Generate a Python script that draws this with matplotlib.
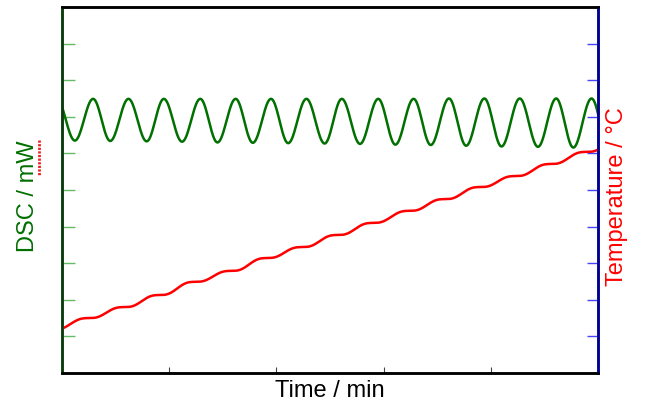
import numpy as np
import matplotlib
matplotlib.use('Agg')
import matplotlib.pyplot as plt
from matplotlib.lines import Line2D

plt.rcParams['font.family'] = ['Liberation Sans', 'DejaVu Sans']

# DSC signal: alternating extrema (time in min, value in axis units)
dsc_t = [-0.5, 1.2, 2.9, 4.5, 6.2, 7.9, 9.5, 11.2, 12.9, 14.5, 16.2, 17.8, 19.5,
         21.1, 22.8, 24.5, 26.1, 27.8, 29.5, 31.1, 32.8, 34.4, 36.1, 37.7, 39.4,
         41.0, 42.7, 44.4, 46.1, 47.7, 49.4, 51.0]
dsc_v = [7.50, 6.35, 7.49, 6.34, 7.49, 6.33, 7.49, 6.32, 7.49, 6.30, 7.49, 6.29, 7.49,
         6.28, 7.49, 6.27, 7.49, 6.26, 7.49, 6.24, 7.49, 6.23, 7.50, 6.21, 7.50,
         6.19, 7.50, 6.18, 7.50, 6.16, 7.50, 6.15]

# Temperature: times and levels of the flat parts of the stepped ramp
temp_t = [-0.9, 2.5, 5.8, 9.1, 12.4, 15.8, 19.1, 22.4, 25.7, 29.0, 32.4, 35.7,
          39.0, 42.3, 45.6, 48.9, 52.2]
temp_v = [1.18, 1.50, 1.80, 2.13, 2.49, 2.79, 3.14, 3.44, 3.77, 4.10, 4.43, 4.75,
          5.08, 5.38, 5.71, 6.04, 6.36]


def half_cos(tk, vk, n=40):
    xs, ys = [], []
    for i in range(len(tk) - 1):
        u = np.linspace(0, 1, n)
        xs.append(tk[i] + (tk[i + 1] - tk[i]) * u)
        ys.append(vk[i] + (vk[i + 1] - vk[i]) * (1 - np.cos(np.pi * u)) / 2)
    return np.concatenate(xs), np.concatenate(ys)


def smooth_steps(tk, vk, n=40):
    xs, ys = [], []
    for i in range(len(tk) - 1):
        u = np.linspace(0, 1, n)
        s = u - np.sin(2 * np.pi * u) / (2 * np.pi)
        xs.append(tk[i] + (tk[i + 1] - tk[i]) * u)
        ys.append(vk[i] + (vk[i + 1] - vk[i]) * s)
    return np.concatenate(xs), np.concatenate(ys)


fig = plt.figure(figsize=(6.45, 4.08), dpi=100)
ax = fig.add_axes([62 / 645, 35 / 408, 536 / 645, 366 / 408])
ax2 = ax.twinx()

x1, y1 = half_cos(dsc_t, dsc_v)
x2, y2 = smooth_steps(temp_t, temp_v)
ax.plot(x1, y1, color='#007000', lw=1.8)
ax2.plot(x2, y2, color='#ff0000', lw=1.8)

for a in (ax, ax2):
    a.set_xlim(0, 50)
    a.set_ylim(0, 10)

ax.set_xticks([10, 20, 30, 40])
ax.set_yticks(range(1, 10))
ax2.set_yticks(range(1, 10))
ax.tick_params(axis='x', direction='in', length=4, width=0.8, color='#444444',
               labelbottom=False)
ax.tick_params(axis='y', direction='in', length=9, width=1, color='#66bb66',
               labelleft=False)
ax2.tick_params(axis='y', direction='in', length=8, width=1, color='#4444ff',
                labelright=False)

for a in (ax, ax2):
    a.spines['top'].set_color('black')
    a.spines['bottom'].set_color('black')
    a.spines['left'].set_color('#0b3d0b')
    a.spines['right'].set_color('#000090')
    for s in a.spines.values():
        s.set_linewidth(1.8)

fig.text(28 / 645, 1 - 196 / 408, 'DSC / mW', rotation=90, color='#007000',
         fontsize=17, ha='center', va='center')
fig.text(617 / 645, 1 - 197 / 408, 'Temperature / °C', rotation=90, color='#ff0000',
         fontsize=17, ha='center', va='center')
fig.text(330 / 645, 1 - 391 / 408, 'Time / min', color='black',
         fontsize=17, ha='center', va='center')

# red spell-check squiggle beside "mW"
fig.add_artist(Line2D([39 / 645, 39 / 645], [1 - 140 / 408, 1 - 175 / 408],
                      color='#ee2222', lw=2, ls=(0, (0.8, 0.5))))

fig.savefig('out.png', dpi=100)
